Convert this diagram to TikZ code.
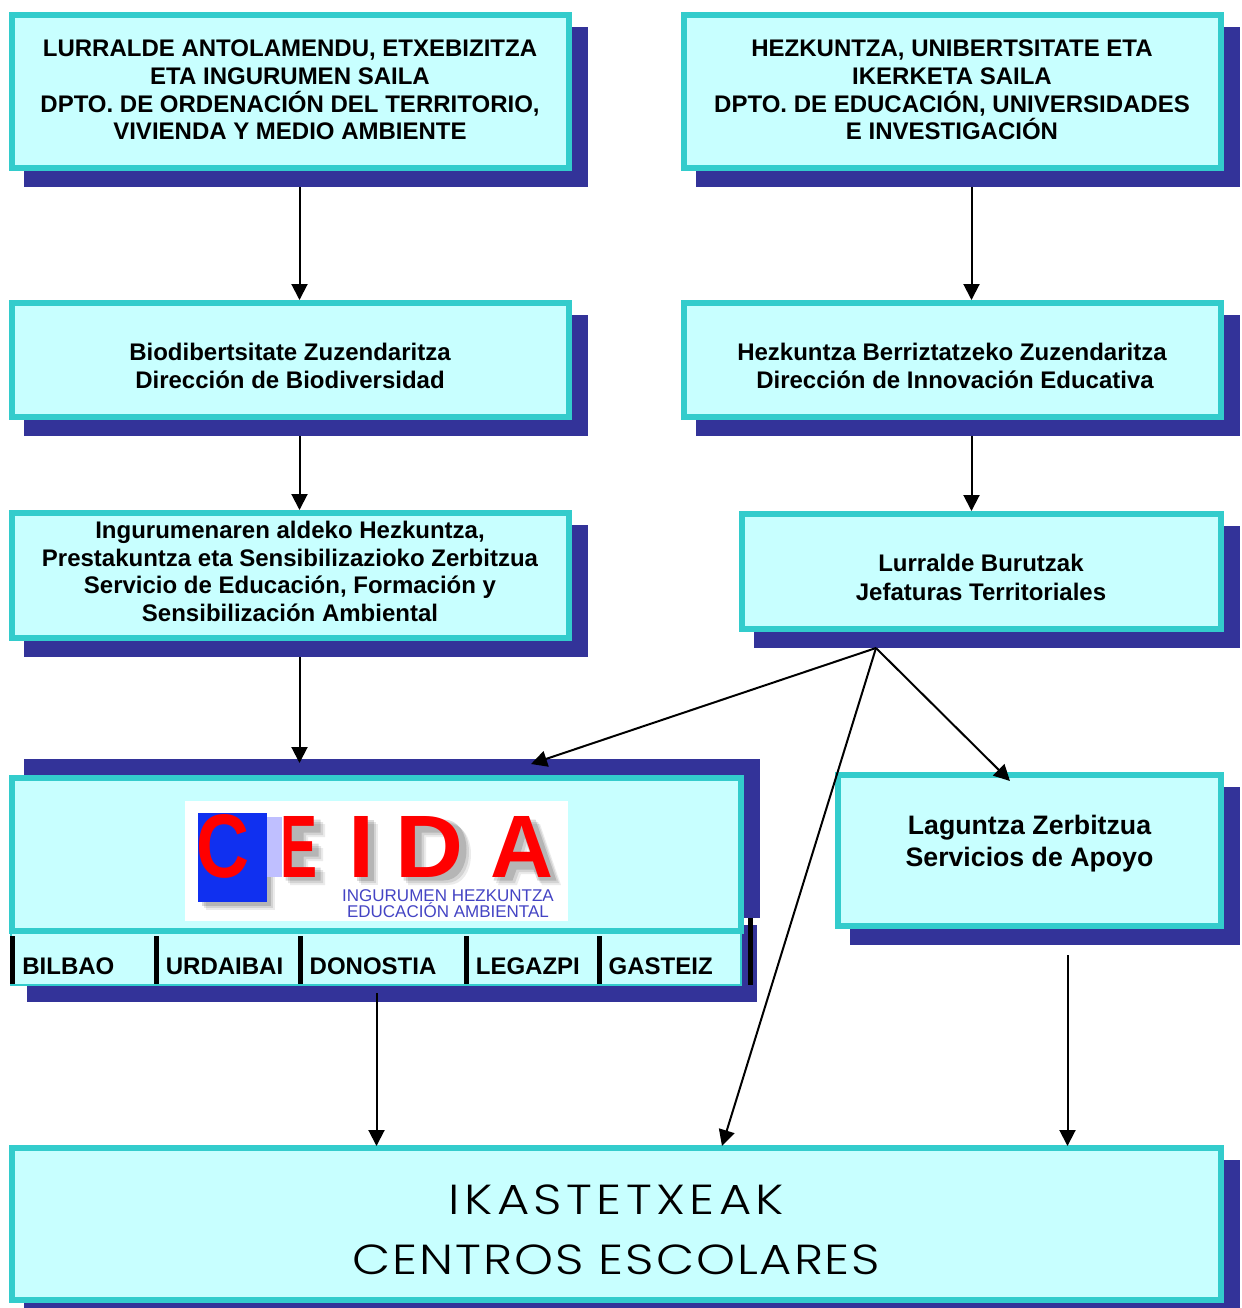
\documentclass[tikz,border=0pt]{standalone}
\usepackage{fontspec}
\usepackage{graphicx}
\setmainfont{Liberation Sans}
\newfontfamily\thinfont[FakeStretch=1.18,LetterSpace=4.5]{Poppins Light}
\newfontfamily\thinwide[FakeStretch=1.18,LetterSpace=10.5]{Poppins Light}
\usetikzlibrary{arrows.meta}
\definecolor{teal1}{HTML}{33CCCC}
\definecolor{cyan1}{HTML}{C8FFFF}
\definecolor{navy1}{HTML}{333399}
\definecolor{logoblue}{HTML}{1030F0}
\definecolor{logotxt}{HTML}{4444C4}
\tikzset{
  panel/.style={draw=teal1,fill=cyan1,line width=3pt,inner sep=0pt,rectangle},
  shade1/.style={fill=navy1,draw=none,inner sep=0pt,rectangle},
  lbl/.style={font=\bfseries\fontsize{12}{13.85}\selectfont,align=center,inner sep=0pt,text=black},
  lblwide/.style={font=\bfseries\fontsize{12}{14.4}\selectfont,align=center,inner sep=0pt,text=black},
  lblbig/.style={font=\bfseries\fontsize{13.35}{15.6}\selectfont,align=center,inner sep=0pt,text=black},
  lblthin/.style={font=\thinfont\fontsize{21}{30}\selectfont,align=center,inner sep=0pt,text=black},
  cell/.style={font=\bfseries\fontsize{12}{14}\selectfont,anchor=base west,inner sep=0pt,text=black},
  bar/.style={fill=black,draw=none},
  conn/.style={draw=black,line width=1pt,-{Triangle[length=8pt,width=8pt]}},
  logoletter/.style={inner sep=0pt,text=red,font=\bfseries},
  logocap/.style={inner sep=0pt,text=logotxt,align=center,font=\fontsize{8.5}{8}\selectfont},
}
% name, x0,y0,x1,y1 (outer edge of the teal frame, in reference pixels)
\newcommand{\panelbox}[5]{%
  \node[shade1,minimum width={(#4-#2+1)*0.5pt},minimum height={(#5-#3+1)*0.5pt}] (#1s) at ({(#2+#4)/2+15.5},{(#3+#5)/2+15.5}) {};
  \node[panel,minimum width={(#4-#2-6)*0.5pt},minimum height={(#5-#3-6)*0.5pt}] (#1) at ({(#2+#4)/2},{(#3+#5)/2}) {};
}
\newcommand{\logoglyph}[6]{% name, x0,x1, y0,y1, letter
  \node[logoletter,anchor=center] (#1) at ({(#2+#3)/2},{(#4+#5)/2}) {\resizebox{\dimexpr(#3pt-#2pt)/2\relax}{\dimexpr(#5pt-#4pt)/2\relax}{#6}};
}
\begin{document}
\begin{tikzpicture}[x=0.5pt,y=-0.5pt]
\useasboundingbox (0,0) rectangle (1242,1308);
\fill[white] (0,0) rectangle (1242,1308);

% upper boxes
\panelbox{a1}{9}{12}{572}{171}
\panelbox{b1}{681}{12}{1224}{171}
\panelbox{a2}{9}{300}{572}{420}
\panelbox{b2}{681}{300}{1224}{420}
\panelbox{a3}{9}{510}{572}{641}
\panelbox{b3}{739}{511}{1224}{632}
\panelbox{lag}{835}{772}{1224}{929}

% bottom box (its shadow runs off the page)
\fill[navy1] (24,1160) rectangle (1240,1308);
\node[panel,minimum width={(1224-9-6)*0.5pt},minimum height={(1303-1145-6)*0.5pt}] (ika) at (616.5,1224) {};

% CEIDA block
\node[shade1,minimum width={(760-24)*0.5pt},minimum height={(918-759)*0.5pt}] (ceidas) at (392,838.5) {};
\node[shade1,minimum width={(757-27)*0.5pt},minimum height={(1002-925)*0.5pt}] (strips) at (392,963.5) {};
\node[draw=teal1,fill=cyan1,line width=1pt,inner sep=0pt,minimum width={(741-11)*0.5pt},minimum height={(985-930)*0.5pt}] (strip) at (376,957) {};
\node[panel,minimum width={(744-9-6)*0.5pt},minimum height={(934-775-6)*0.5pt}] (ceida) at (376.5,854.5) {};
\fill[bar] (10,936) rectangle (15,984);
\fill[bar] (154,936) rectangle (159,984);
\fill[bar] (298,936) rectangle (303,984);
\fill[bar] (463.5,936) rectangle (468.5,984);
\fill[bar] (596.5,936) rectangle (601.5,984);
\fill[bar] (747.5,918) rectangle (753,985);
\node[cell] (c1) at (22,974) {BILBAO};
\node[cell] (c2) at (165.5,974) {URDAIBAI};
\node[cell] (c3) at (309.3,974) {DONOSTIA};
\node[cell] (c4) at (475.5,974) {LEGAZPI};
\node[cell] (c5) at (608.3,974) {GASTEIZ};

% logo
\fill[white] (185,801) rectangle (568,921);
\foreach \d/\o in {8/0.08,6/0.10,3.5/0.14}{
  \fill[black,opacity=\o] (198+\d,813+\d) rectangle (267+\d,902+\d);
  \fill[black,opacity=\o] (282+\d,816+\d) -- (317+\d,816+\d) -- (317+\d,829+\d) -- (300+\d,829+\d) -- (300+\d,840+\d) -- (315+\d,840+\d) -- (315+\d,853+\d) -- (300+\d,853+\d) -- (300+\d,864+\d) -- (317+\d,864+\d) -- (317+\d,877+\d) -- (282+\d,877+\d) -- cycle;
  \fill[black,opacity=\o] (353+\d,816+\d) rectangle (370+\d,877+\d);
  \fill[black,opacity=\o,even odd rule] (400+\d,816+\d) -- (440+\d,816+\d) .. controls (455+\d,816+\d) and (463+\d,830+\d) .. (463+\d,846+\d) .. controls (463+\d,863+\d) and (455+\d,877+\d) .. (440+\d,877+\d) -- (400+\d,877+\d) -- cycle
    (418+\d,829+\d) -- (435+\d,829+\d) .. controls (442+\d,829+\d) and (445+\d,838+\d) .. (445+\d,846+\d) .. controls (445+\d,855+\d) and (442+\d,864+\d) .. (435+\d,864+\d) -- (418+\d,864+\d) -- cycle;
  \fill[black,opacity=\o,even odd rule] (490+\d,877+\d) -- (512+\d,816+\d) -- (532+\d,816+\d) -- (553+\d,877+\d) -- (534+\d,877+\d) -- (530+\d,866+\d) -- (513+\d,866+\d) -- (509+\d,877+\d) -- cycle
    (516+\d,853+\d) -- (527+\d,853+\d) -- (521.5+\d,834+\d) -- cycle;
}
\fill[logoblue] (198,813) rectangle (267,902);
\fill[blue!25!white] (267,817) rectangle (282,877);
\logoglyph{lc}{197}{250}{815}{878}{C}
\logoglyph{le}{280}{317}{816}{877}{E}
\logoglyph{li}{348.5}{374.5}{816}{877}{I}
\logoglyph{ld}{396}{464}{816}{877}{D}
\logoglyph{la}{490}{553}{816}{877}{A}
\node[logocap] (lt) at (448,903.5) {INGURUMEN HEZKUNTZA\\EDUCACIÓN AMBIENTAL};

% texts
\node[lbl] (ta1) at (290,90) {LURRALDE ANTOLAMENDU, ETXEBIZITZA\\ETA INGURUMEN SAILA\\DPTO. DE ORDENACIÓN DEL TERRITORIO,\\VIVIENDA Y MEDIO AMBIENTE};
\node[lbl] (tb1) at (952,90) {HEZKUNTZA, UNIBERTSITATE ETA\\IKERKETA SAILA\\DPTO. DE EDUCACIÓN, UNIVERSIDADES\\E INVESTIGACIÓN};
\node[lbl] (ta2) at (290,366) {Biodibertsitate Zuzendaritza\\Dirección de Biodiversidad};
\node[lbl] (tb2) at (952,366) {Hezkuntza Berriztatzeko Zuzendaritza\\\hspace*{3pt}Dirección de Innovación Educativa};
\node[lbl] (ta3) at (290,571.5) {Ingurumenaren aldeko Hezkuntza,\\Prestakuntza eta Sensibilizazioko Zerbitzua\\Servicio de Educación, Formación y\\Sensibilización Ambiental};
\node[lblwide] (tb3) at (981,577.5) {Lurralde Burutzak\\Jefaturas Territoriales};
\node[lblbig] (tlag) at (1029.5,843.5) {Laguntza Zerbitzua\\Servicios de Apoyo};
\node[lblthin] (tika) at (616.5,1230) {{\thinwide\fontsize{21}{30}\selectfont IKASTETXEAK}\\CENTROS ESCOLARES};

% connectors
\coordinate (colL) at (299.5,0);
\coordinate (colR) at (971.5,0);
\coordinate (hub) at (876,648);
\coordinate (toCeidaL) at (299.5,763);
\coordinate (toCeidaR) at (531,764);
\coordinate (toLag) at (1010,781);
\coordinate (toIkaM) at (722,1146);
\coordinate (fromStrip) at (376.5,993);
\coordinate (toIkaL) at (376.5,1146);
\coordinate (fromLag) at (1067.5,955);
\coordinate (toIkaR) at (1067.5,1146);
\draw[conn] (a1s.south -| colL) -- (a2.north -| colL);
\draw[conn] (b1s.south -| colR) -- (b2.north -| colR);
\draw[conn] (a2s.south -| colL) -- (a3.north -| colL);
\draw[conn] (b2s.south -| colR) -- (b3.north -| colR);
\draw[conn] (a3s.south -| colL) -- (toCeidaL);
\draw[conn] (hub) -- (toCeidaR);
\draw[conn] (hub) -- (toLag);
\draw[conn] (hub) -- (toIkaM);
\draw[conn] (fromStrip) -- (toIkaL);
\draw[conn] (fromLag) -- (toIkaR);
\end{tikzpicture}
\end{document}
